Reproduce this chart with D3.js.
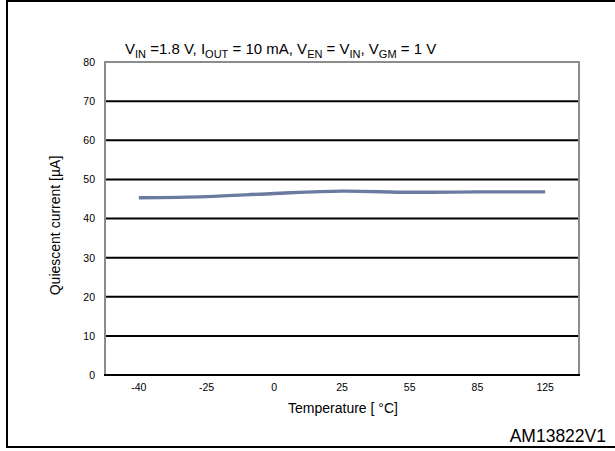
<!DOCTYPE html>
<html><head><meta charset="utf-8">
<script src="https://cdn.jsdelivr.net/npm/d3@7"></script>
<style>
body{margin:0;background:#fff;}
text{font-family:Arial,"Liberation Sans",sans-serif;fill:#000;}
</style></head>
<body><svg id="c" width="615" height="451"></svg>
<script>
const categories = ["-40","-25","0","25","55","85","125"];
const quiescentCurrent = [45.3, 45.6, 46.4, 47.0, 46.7, 46.8, 46.8];
const yTicks = [0,10,20,30,40,50,60,70,80];

const svg = d3.select("#c");
const L = 105, R = 579, T = 62, B = 375;

svg.append("rect").attr("x",7).attr("y",1).attr("width",640).attr("height",446)
  .attr("fill","none").attr("stroke","#000").attr("stroke-width",2);

const x = d3.scaleBand().domain(categories).range([L,R]);
const y = d3.scaleLinear().domain([0,80]).range([B,T]);

// gridlines
svg.append("g").selectAll("line").data(yTicks.filter(d=>d>0 && d<80)).join("line")
  .attr("x1",L).attr("x2",R).attr("y1",d=>y(d)).attr("y2",d=>y(d))
  .attr("stroke","#000").attr("stroke-width",2);

// plot border
svg.append("rect").attr("x",L).attr("y",T).attr("width",R-L).attr("height",B-T)
  .attr("fill","none").attr("stroke","#8c8c8c").attr("stroke-width",2);
svg.append("line").attr("x1",L-1).attr("x2",R+1).attr("y1",y(0)).attr("y2",y(0))
  .attr("stroke","#000").attr("stroke-width",2);

// y axis
const ya = svg.append("g").attr("transform",`translate(${L},0)`)
  .call(d3.axisLeft(y).tickValues(yTicks).tickSize(0).tickPadding(10));
ya.select(".domain").remove();
ya.selectAll("text").attr("font-size","10.5px").attr("font-family","Arial, 'Liberation Sans', sans-serif").attr("fill","#000");

// x axis
const xa = svg.append("g").attr("transform",`translate(0,${B})`)
  .call(d3.axisBottom(x).tickSize(0).tickPadding(9));
xa.select(".domain").remove();
xa.selectAll("text").attr("font-size","10.5px").attr("font-family","Arial, 'Liberation Sans', sans-serif").attr("fill","#000");

// line
const line = d3.line().x((d,i)=>x(categories[i])+x.bandwidth()/2).y(d=>y(d))
  .curve(d3.curveCatmullRom.alpha(0.5));
svg.append("path").datum(quiescentCurrent).attr("d",line)
  .attr("fill","none").attr("stroke","#6b7ba0").attr("stroke-width",3.4);

// axis titles
svg.append("text").attr("x",343).attr("y",413).attr("text-anchor","middle")
  .attr("font-size","14px").text("Temperature [ \u00B0C]");
svg.append("text").attr("transform",`translate(60,${(T+B)/2+7}) rotate(-90)`)
  .attr("text-anchor","middle").attr("font-size","14px").text("Quiescent current [\u00B5A]");

// title
const t = svg.append("text").attr("x",125).attr("y",54).attr("font-size","15px");
const parts = [["V",""],["IN","s"],[" =1.8 V, I",""],["OUT","s"],[" = 10 mA, V",""],["EN","s"],[" = V",""],["IN","s"],[", V",""],["GM","s"],[" = 1 V",""]];
parts.forEach((p,i)=>{
  const prev = parts[i-1];
  if(p[1]==="s") t.append("tspan").attr("font-size","11px").attr("dy",4).text(p[0]);
  else t.append("tspan").attr("dy", prev && prev[1]==="s" ? -4 : 0).text(p[0]);
});

svg.append("text").attr("x",606).attr("y",442).attr("text-anchor","end")
  .attr("font-size","17.5px").text("AM13822V1");
</script></body></html>
